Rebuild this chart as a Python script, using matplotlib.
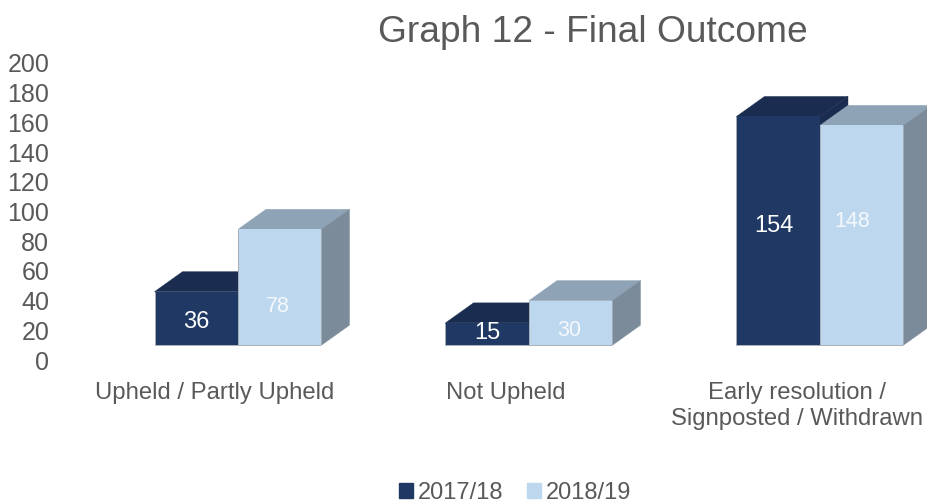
import matplotlib
matplotlib.use('Agg')
import matplotlib.pyplot as plt
from matplotlib.patches import Polygon, Patch
import numpy as np

plt.rcParams['font.family'] = ['Liberation Sans', 'DejaVu Sans']

categories = ['Upheld / Partly Upheld', 'Not Upheld', 'Early resolution /\nSignposted / Withdrawn']
series_names = ['2017/18', '2018/19']
values_1718 = [36, 15, 154]
values_1819 = [78, 30, 148]
y_ticks = [0, 20, 40, 60, 80, 100, 120, 140, 160, 180, 200]

# label nudges, the source labels do not sit at bar centres
label_dy_1718 = [-2.5, 1, 3.5]
label_dy_1819 = [-13, -5, 9.5]
label_dx_1718 = [0, 0, -4]
label_dx_1819 = [-2, -2, -9]

W, H = 928, 503
left, right, top, bottom = 52, 928, 63, 360
text_grey = '#595959'
edge = '#A9AEB5'

fig = plt.figure(figsize=(W / 100, H / 100), dpi=100)
ax = fig.add_axes([left / W, 1 - bottom / H, (right - left) / W, (bottom - top) / H])

unit_x = 291.0
centre = 238.0
ax.set_xlim((left - centre) / unit_x, (right - centre) / unit_x)
ax.set_ylim(0, 200)

bar_w = 83.5 / unit_x
floor = 10.0                     # front face sits above the axis zero
depth_x = 28 / unit_x
depth_y = 20 / ((bottom - top) / 200)


def box(x0, val, front, top_col, side_col, z):
    x1 = x0 + bar_w
    y0 = floor
    y1 = floor + val
    ax.bar(x0, val, bar_w, bottom=floor, align='edge', color=front, linewidth=0, zorder=z + 0.2)
    ax.add_patch(Polygon([(x0, y1), (x1, y1), (x1 + depth_x, y1 + depth_y), (x0 + depth_x, y1 + depth_y)],
                         closed=True, facecolor=top_col, edgecolor=top_col, linewidth=0.3, zorder=z))
    ax.add_patch(Polygon([(x1, y0), (x1 + depth_x, y0 + depth_y), (x1 + depth_x, y1 + depth_y), (x1, y1)],
                         closed=True, facecolor=side_col, edgecolor=side_col, linewidth=0.3, zorder=z))
    # thin grey rim along the foot of the front face
    ax.plot([x0, x0, x1], [y1, y0, y0], color=edge, linewidth=0.7, zorder=z + 0.3, solid_capstyle='butt')


x = np.arange(len(categories))
for i in x:
    box(i - bar_w, values_1718[i], '#1F3864', '#1A2C50', '#1A2C50', 2)
    box(i, values_1819[i], '#BDD7EE', '#8FA3B6', '#7C8B9A', 3)
    ax.text(i - bar_w / 2 + label_dx_1718[i] / unit_x, floor + values_1718[i] / 2 + label_dy_1718[i],
            str(values_1718[i]), color='white', fontsize=17, ha='center', va='center', zorder=5)
    ax.text(i + bar_w / 2 + label_dx_1819[i] / unit_x, floor + values_1819[i] / 2 + label_dy_1819[i],
            str(values_1819[i]), color='#F4F8FC', fontsize=15.5, ha='center', va='center', zorder=5)

ax.set_yticks(y_ticks)
ax.set_xticks(x - depth_x + 5 / unit_x)
ax.set_xticklabels(categories, linespacing=1.25)
ax.tick_params(axis='both', length=0, labelsize=17.2, labelcolor=text_grey)
ax.tick_params(axis='x', pad=15.5)
ax.tick_params(axis='y', pad=2, labelsize=18)
for s in ax.spines.values():
    s.set_visible(False)

fig.text(592.5 / W, 1 - 32 / H, 'Graph 12 - Final Outcome', color=text_grey,
         fontsize=26.7, ha='center', va='center')

handles = [Patch(color='#1F3864', label=series_names[0]), Patch(color='#BDD7EE', label=series_names[1])]
fig.legend(handles=handles, loc='center', bbox_to_anchor=(515 / W, 1 - 493 / H), ncol=2, frameon=False,
           fontsize=17, labelcolor=text_grey, handlelength=0.6, handleheight=0.6, handletextpad=0.2,
           columnspacing=1.0, borderpad=0, borderaxespad=0)

fig.savefig('out.png', dpi=100)
